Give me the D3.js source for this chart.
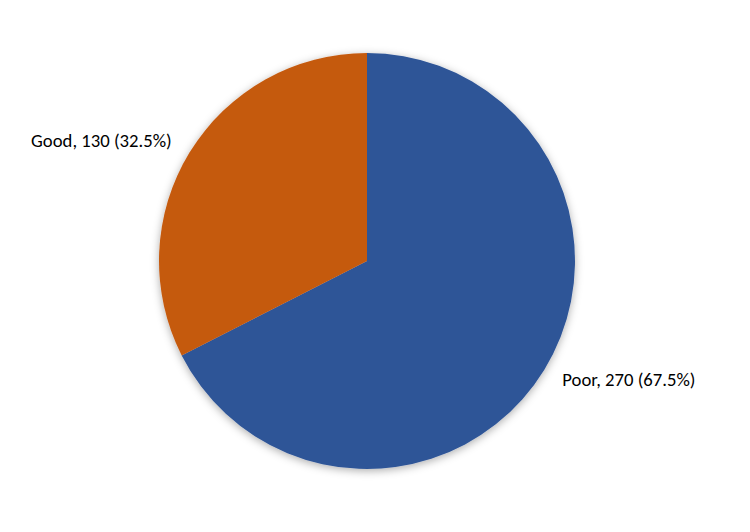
<!DOCTYPE html>
<html><head><meta charset="utf-8">
<script src="https://cdn.jsdelivr.net/npm/d3@7"></script>
<style>body{margin:0;background:#fff}svg{display:block}</style>
</head><body>
<script>
const categories = ["Poor", "Good"];
const values = [270, 130];
const colors = ["#2F5597", "#C55A11"];

const W = 750, H = 532, cx = 367, cy = 261, R = 208;
const svg = d3.select("body").append("svg").attr("width", W).attr("height", H);
const defs = svg.append("defs");
const f = defs.append("filter").attr("id","sh").attr("x","-20%").attr("y","-20%").attr("width","140%").attr("height","140%");
f.append("feDropShadow").attr("dx",0).attr("dy",2).attr("stdDeviation",4.5).attr("flood-color","#000").attr("flood-opacity",0.32);

const total = d3.sum(values);
const data = categories.map((c,i)=>({cat:c, value:values[i], color:colors[i]}));
const pie = d3.pie().value(d=>d.value).sort(null);
const arc = d3.arc().innerRadius(0).outerRadius(R);
const g = svg.append("g").attr("transform",`translate(${cx},${cy})`);
g.append("g").attr("filter","url(#sh)").selectAll("path").data(pie(data)).join("path")
  .attr("d", arc).attr("fill", d=>d.data.color);

const fmt = d => `${d.data.cat}, ${d.data.value} (${(d.data.value/total*100).toFixed(1)}%)`;
const labelArc = d3.arc().innerRadius(229).outerRadius(229);
g.selectAll("text").data(pie(data)).join("text")
  .attr("transform", d => {
    const [x,y] = labelArc.centroid(d);
    return `translate(${x},${y + 1})`;
  })
  .attr("text-anchor", d => (d.startAngle+d.endAngle)/2 < Math.PI ? "start" : "end")
  .attr("dominant-baseline","middle")
  .attr("font-family","Carlito, Calibri, Lato, sans-serif")
  .attr("font-size", 18.7).attr("fill","#000")
  .text(fmt);
</script>
</body></html>
